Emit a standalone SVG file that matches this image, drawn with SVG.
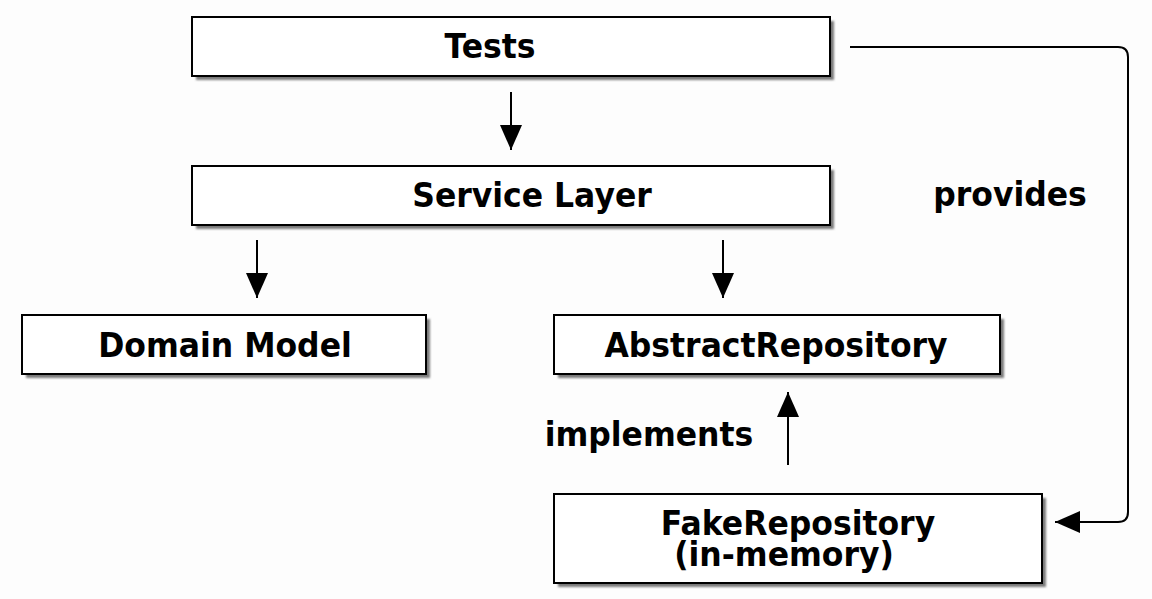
<svg xmlns="http://www.w3.org/2000/svg" width="1152" height="599" viewBox="0 0 1152 599">
<defs>
<filter id="sh" x="-5%" y="-20%" width="115%" height="150%">
<feGaussianBlur stdDeviation="1.2"/>
</filter>
<marker id="ah" markerUnits="userSpaceOnUse" markerWidth="26" markerHeight="22" refX="25" refY="11" orient="auto">
<path d="M0,0 L25,11 L0,22 Z" fill="#000"/>
</marker>
</defs>
<style>
.box{fill:#fff;stroke:#000;stroke-width:2}
.shadow{fill:#7a7a7a;filter:url(#sh)}
.t{font-family:"DejaVu Sans",sans-serif;font-weight:bold;font-size:31.5px;fill:#000;text-anchor:middle}
.c{fill:none;stroke:#000;stroke-width:2;marker-end:url(#ah)}
</style>
<rect width="1152" height="599" fill="#fdfdfd"/>
<g id="tests">
<rect class="shadow" x="196" y="21" width="638" height="59"/>
<rect class="box" x="192" y="17" width="638" height="59"/>
<text class="t" transform="translate(490,58) scale(1,1.06)">Tests</text>
</g>
<g id="service">
<rect class="shadow" x="196" y="170" width="638" height="59"/>
<rect class="box" x="192" y="166" width="638" height="59"/>
<text class="t" transform="translate(532,207) scale(1,1.06)">Service Layer</text>
</g>
<g id="domain">
<rect class="shadow" x="26" y="319" width="404" height="59"/>
<rect class="box" x="22" y="315" width="404" height="59"/>
<text class="t" transform="translate(225,357) scale(1,1.06)">Domain Model</text>
</g>
<g id="abstract">
<rect class="shadow" x="558" y="319" width="446" height="59"/>
<rect class="box" x="554" y="315" width="446" height="59"/>
<text class="t" transform="translate(776,357) scale(1,1.06)">AbstractRepository</text>
</g>
<g id="fake">
<rect class="shadow" x="558" y="498" width="488" height="89"/>
<rect class="box" x="554" y="494" width="488" height="89"/>
<text class="t" transform="translate(798,535) scale(1,1.06)"><tspan x="0" y="0">FakeRepository</tspan><tspan x="-14" y="29">(in-memory)</tspan></text>
</g>
<g id="connectors">
<line class="c" x1="511" y1="92" x2="511" y2="150"/>
<line class="c" x1="257" y1="240" x2="257" y2="298"/>
<line class="c" x1="723" y1="240" x2="723" y2="298"/>
<line class="c" x1="788" y1="465" x2="788" y2="392"/>
<path class="c" d="M850,47 L1118,47 Q1128,47 1128,57 L1128,512 Q1128,522 1118,522 L1055,522"/>
<text class="t" transform="translate(649,446) scale(1,1.06)">implements</text>
<text class="t" transform="translate(1010,206) scale(1,1.06)">provides</text>
</g>
</svg>
